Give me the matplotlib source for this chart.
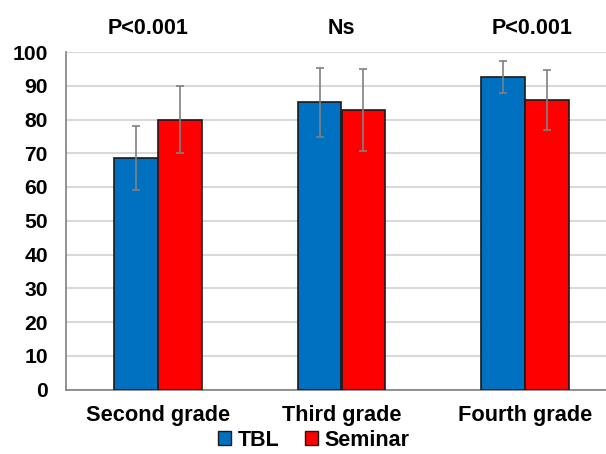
import matplotlib
matplotlib.use("Agg")
import matplotlib.pyplot as plt
import numpy as np
from matplotlib.patches import Patch

categories = ["Second grade", "Third grade", "Fourth grade"]
tbl = [68.6, 85.1, 92.7]
tbl_err = [9.6, 10.2, 4.7]
seminar = [80.0, 82.8, 85.8]
seminar_err = [9.8, 12.2, 9.0]
p_labels = ["P<0.001", "Ns", "P<0.001"]
yticks = list(range(0, 101, 10))

plt.rcParams['font.family'] = ['Liberation Sans', 'DejaVu Sans']

fig = plt.figure(figsize=(6.06, 4.54), dpi=100)
ax = fig.add_axes([66/606, 64.5/454, 551/606, 337.5/454])

x = np.arange(len(categories))
w = 0.239
blue = "#0070c0"
red = "#ff0000"
ax.bar(x - w/2, tbl, w, color=blue, edgecolor="#1a1a1a", linewidth=1.2, zorder=3)
ax.bar(x + w/2, seminar, w, color=red, edgecolor="#1a1a1a", linewidth=1.2, zorder=3)
ax.errorbar(x - w/2, tbl, yerr=tbl_err, fmt='none', ecolor="#808080", elinewidth=1.2, capsize=3, capthick=1.2, zorder=4)
ax.errorbar(x + w/2, seminar, yerr=seminar_err, fmt='none', ecolor="#808080", elinewidth=1.2, capsize=3, capthick=1.2, zorder=4)

ax.set_xlim(-0.5, 2.5)
ax.set_ylim(0, 100)
ax.set_yticks(yticks)
ax.set_yticklabels([str(t) for t in yticks], fontsize=15.2, fontweight='bold')
ax.set_xticks(x)
ax.set_xticklabels(categories, fontsize=15.7, fontweight='bold')
ax.tick_params(axis='both', length=0)
ax.tick_params(axis='y', pad=13)
ax.tick_params(axis='x', pad=11)
ax.yaxis.grid(True, color="#d9d9d9", linewidth=1.5, zorder=0)
ax.set_axisbelow(True)
for s in ['top', 'right']:
    ax.spines[s].set_visible(False)
for s in ['left', 'bottom']:
    ax.spines[s].set_color("#808080")
    ax.spines[s].set_linewidth(1.2)

p_x = [-0.054, 1.0, 2.04]
for px, lab in zip(p_x, p_labels):
    ax.text(px, 1.0 + 24/337.5, lab, transform=ax.get_xaxis_transform(),
            ha='center', va='center', fontsize=15.5, fontweight='bold')

handles = [Patch(facecolor=blue, edgecolor="#1a1a1a"), Patch(facecolor=red, edgecolor="#1a1a1a")]
fig.legend(handles, ["TBL", "Seminar"], loc='center', bbox_to_anchor=(314/606, 1 - 440/454),
           ncol=2, frameon=False, prop={'size': 15.5, 'weight': 'bold'},
           handlelength=0.6, handleheight=0.6, handletextpad=0.3, columnspacing=1.2)

fig.savefig("out.png", dpi=100)
